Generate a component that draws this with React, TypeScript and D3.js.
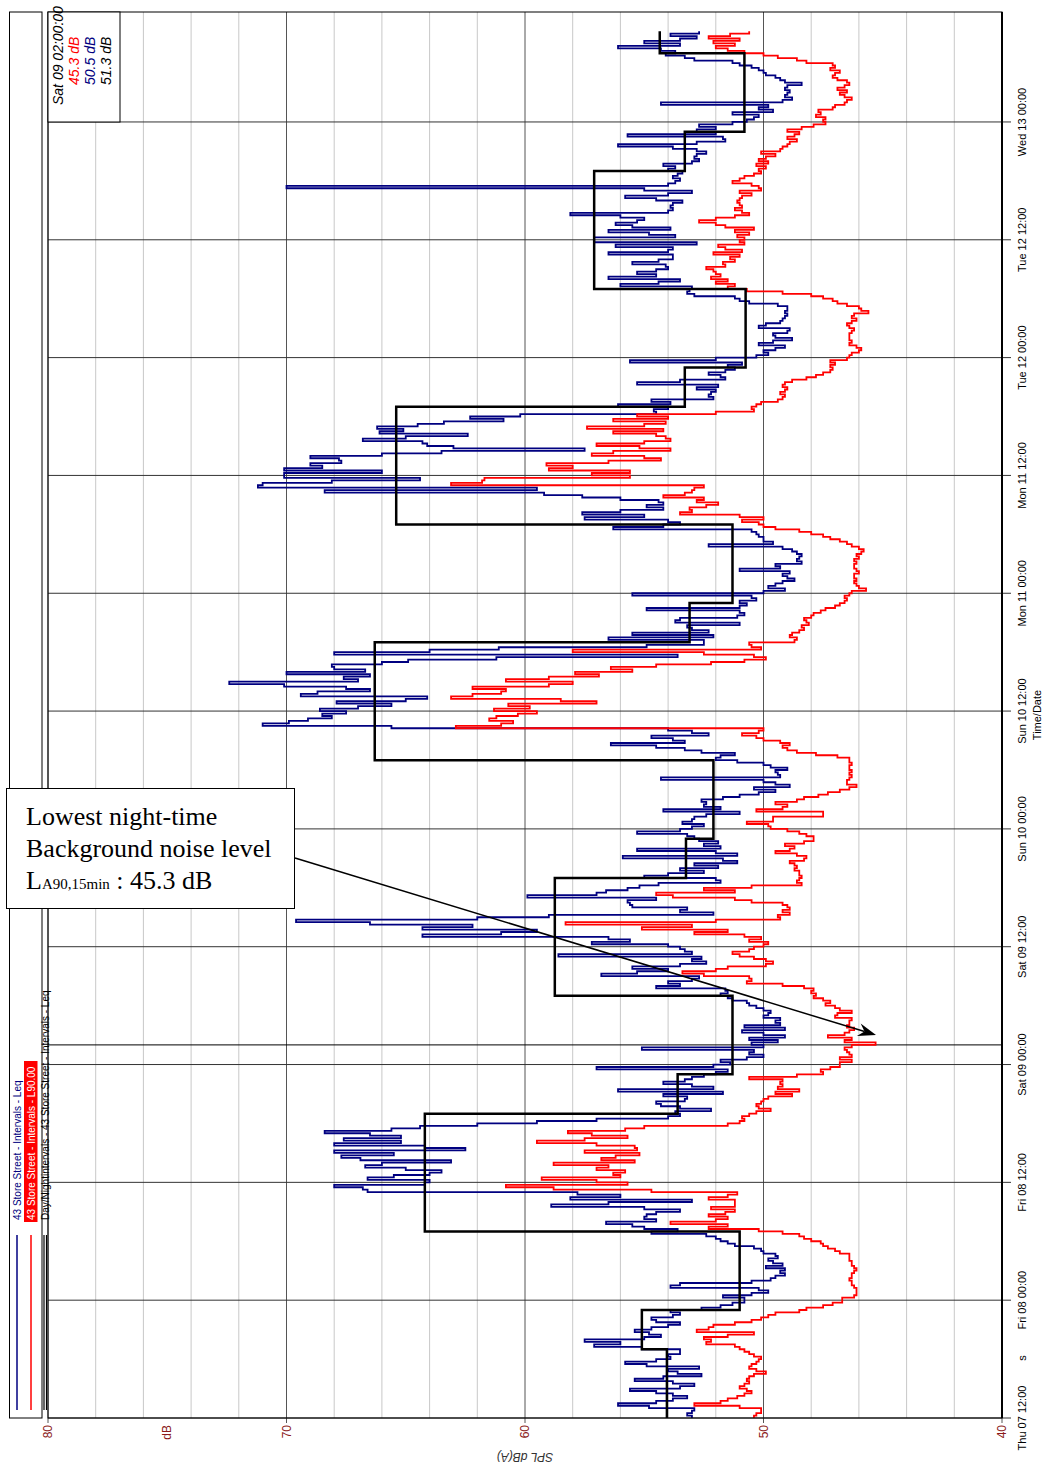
import * as d3 from "d3"

// ---- data (15 min intervals from Thu 07 12:00) ----
const SERIES_START = "2019-11-07T12:00:00Z"
const AXIS_END = "2019-11-13T11:12:00Z"
const INTERVAL_MIN = 15
const CURSOR_TIME = "2019-11-09T02:00:00Z"

// 43 Store Street - Intervals - Leq
const leq = [
  53.0,53.2,53.0,52.9,54.8,56.1,54.5,53.8,53.2,53.8,54.5,55.6,53.5,52.9,53.8,55.4,54.2,52.6,53.6,54.0,52.7,54.9,55.8,54.5,53.9,54.0,53.5,53.5,55.1,57.1,56.0,57.5,55.0,54.3,54.8,55.4,54.7,54.0,53.5,54.5,54.7,53.8,53.5,53.9,52.6,51.8,51.3,50.8,
  50.8,51.7,50.5,49.8,50.2,53.9,53.5,50.5,49.7,49.5,49.1,49.3,49.1,49.9,49.2,49.6,49.8,49.4,49.5,50.0,50.1,50.4,51.2,51.5,51.8,52.0,52.4,54.7,53.6,55.0,55.5,56.6,54.5,55.0,54.9,54.5,53.5,55.0,58.9,56.5,53.0,58.1,56.0,57.8,66.6,66.8,68.0,64.2,
  64.0,66.6,65.5,64.0,63.5,65.0,66.7,66.0,63.1,66.9,67.7,65.5,68.0,62.5,64.2,68.0,65.2,67.6,65.2,66.5,68.4,65.6,64.4,62.0,59.5,57.0,54.0,53.5,53.7,52.2,53.5,54.3,54.5,53.3,53.2,54.2,51.7,56.1,52.1,53.0,54.2,53.3,53.0,52.5,52.0,51.5,57.0,52.1,
  51.4,51.8,50.7,50.0,50.6,50.4,55.1,50.0,50.5,49.4,50.6,49.1,50.0,50.9,49.1,50.8,49.3,49.5,49.3,50.0,49.8,49.7,50.0,50.3,50.6,50.7,51.3,51.5,51.8,51.5,51.6,54.5,53.5,54.0,53.0,52.7,56.8,55.3,54.0,55.5,53.5,52.4,53.0,52.6,58.6,53.0,53.3,53.5,
  54.0,57.2,55.6,56.5,64.3,61.0,59.5,64.3,62.2,66.5,69.6,62.0,59.0,52.1,53.5,53.2,55.5,55.6,55.7,54.5,59.9,57.0,56.6,55.7,55.2,54.4,51.8,52.0,55.0,54.0,52.5,53.5,51.9,52.9,51.1,51.7,55.9,51.1,52.0,55.3,51.8,52.5,51.9,52.7,52.9,53.2,55.3,53.5,
  53.0,52.5,53.4,53.0,52.9,52.4,51.0,54.2,51.8,52.5,52.4,52.6,51.7,51.0,50.2,49.5,50.4,48.9,49.5,50.0,54.3,49.3,49.4,49.5,49.0,49.7,50.0,51.1,52.0,51.8,51.2,52.6,53.3,54.5,56.4,53.3,53.8,54.7,52.3,53.0,54.0,65.6,71.0,69.9,69.1,68.1,68.5,67.5,
  68.6,67.0,65.6,67.9,65.0,64.1,69.4,68.7,66.5,67.5,70.1,72.4,67.0,67.6,66.5,70.0,66.7,68.0,68.1,66.0,64.9,61.2,53.6,68.0,64.0,61.1,54.9,52.5,52.5,56.5,52.1,55.5,52.3,53.0,53.2,51.0,53.7,53.5,51.1,50.8,51.0,54.9,51.0,50.7,51.0,50.3,50.5,55.5,
  50.0,49.1,49.8,49.5,49.2,48.7,49.0,49.2,48.9,51.0,49.3,49.5,48.4,48.6,48.5,48.4,48.6,48.8,49.2,52.3,49.6,50.0,50.0,50.2,50.3,50.5,56.3,54.2,53.5,54.0,57.5,55.0,57.6,56.0,54.2,54.9,54.2,54.4,56.0,57.6,59.2,68.4,59.5,71.2,71.0,68.1,64.4,70.1,
  70.1,66.0,70.1,68.5,69.0,67.7,67.8,69.0,66.0,63.5,57.5,63.0,64.1,64.3,66.8,65.0,62.4,66.1,65.1,66.2,64.5,63.4,60.9,62.3,60.2,54.5,54.6,54.0,56.1,53.9,54.7,52.1,52.3,52.2,52.0,52.8,51.9,55.3,53.5,51.6,51.8,52.3,51.6,51.2,51.5,50.9,55.6,52.0,
  50.3,49.8,50.0,49.5,49.1,50.2,49.6,48.8,49.5,49.6,49.0,48.9,50.2,49.9,49.3,49.2,49.1,49.0,49.1,49.0,49.0,49.4,50.6,51.0,51.2,52.9,53.2,53.1,53.0,56.0,54.4,53.5,56.5,54.5,55.3,54.5,54.0,54.1,55.5,54.4,53.8,53.8,56.5,54.0,53.8,56.2,52.8,57.1,
  57.1,53.7,54.8,56.5,53.9,55.5,56.2,55.3,55.0,56.0,58.1,54.0,53.8,53.9,53.8,53.4,54.5,55.8,54.0,53.0,55.0,70.0,54.0,53.7,53.5,53.8,53.6,53.4,54.0,53.7,54.2,53.0,52.7,52.9,52.8,52.4,52.8,53.8,56.1,52.8,51.6,51.7,55.7,52.0,52.8,52.0,52.7,51.3,
  50.7,50.4,50.2,51.3,49.6,50.2,49.8,54.3,49.2,48.8,49.1,49.0,48.9,49.1,49.0,48.4,49.1,49.3,49.5,49.9,50.0,50.2,50.5,51.0,51.3,52.9,53.3,54.1,
  53.7,54.3,56.1,53.5,55.0,53.5,52.8,53.9,52.7,
]

// 43 Store Street - Intervals - L90.00
const l90 = [
  50.4,50.3,50.1,50.1,51.0,52.9,51.8,51.5,51.1,50.8,50.5,50.7,51.0,50.8,50.6,50.7,50.6,50.4,49.9,50.3,50.6,50.5,50.3,50.2,50.1,50.4,50.6,50.8,51.0,51.2,52.4,52.2,52.5,51.5,50.4,52.8,52.3,52.1,51.2,50.5,50.1,49.8,49.5,48.5,48.2,47.5,47.1,46.7,
  46.7,46.2,46.1,46.1,46.1,46.2,46.3,46.3,46.4,46.3,46.3,46.2,46.1,46.2,46.3,46.3,46.4,46.4,46.4,46.8,47.0,47.3,47.5,47.6,48.0,48.3,48.5,49.2,50.2,52.3,51.5,53.9,52.0,51.5,52.3,51.6,51.2,52.2,51.2,51.2,51.2,52.3,51.5,51.1,54.7,58.8,60.8,55.7,
  57.0,59.3,56.0,56.3,55.8,57.0,56.5,58.8,55.4,56.8,56.2,55.2,57.5,55.3,55.4,57.0,59.5,57.5,55.7,57.2,58.2,55.8,55.0,51.5,51.0,50.8,50.9,50.6,50.3,49.7,50.2,50.3,50.1,50.0,49.8,48.8,49.5,48.5,49.4,49.2,49.3,49.2,50.6,48.6,47.5,47.6,47.2,46.8,
  46.8,46.3,46.8,46.3,46.4,46.5,46.6,46.3,45.3,46.6,46.3,47.3,46.6,46.4,46.2,46.5,46.4,46.4,46.3,47.0,46.9,46.3,46.8,47.0,47.4,47.2,47.5,47.9,47.8,48.0,47.9,48.3,49.2,50.7,50.5,50.6,52.5,53.4,52.0,51.5,49.9,49.6,49.9,50.4,51.0,51.3,50.6,50.4,
  50.0,49.8,50.6,50.1,50.8,52.9,51.5,55.1,53.0,58.3,52.0,49.3,49.4,48.9,49.2,48.9,49.0,49.2,50.5,51.2,53.8,54.5,51.2,52.5,50.5,48.4,48.6,48.5,48.4,48.5,48.5,48.7,48.6,48.7,48.9,48.3,48.2,48.6,49.5,48.9,48.7,49.1,48.3,47.9,47.9,48.2,48.5,49.0,
  49.7,49.8,50.7,49.6,49.6,47.5,47.5,50.3,49.2,49.0,49.5,48.6,48.3,47.7,47.3,46.8,46.4,46.1,46.5,46.5,46.4,46.3,46.4,46.3,46.4,46.4,46.3,46.4,46.4,46.9,47.8,48.6,49.0,49.2,48.9,49.3,50.0,50.3,50.9,50.2,50.0,62.9,61.0,60.5,61.5,61.2,60.3,59.5,
  61.3,59.8,60.7,57.0,58.5,63.1,62.2,61.0,60.8,62.2,59.0,58.0,60.8,59.0,56.9,57.9,55.5,56.4,54.5,52.2,50.8,49.9,50.4,52.5,58.0,50.1,50.5,50.6,48.7,48.6,48.9,48.8,48.5,48.3,48.4,48.1,48.2,48.3,48.0,47.9,47.6,47.4,47.0,46.8,46.6,46.5,46.6,46.4,
  46.3,45.7,46.0,46.1,46.2,46.1,46.2,46.2,46.0,46.1,46.2,46.2,46.1,46.2,46.0,46.1,45.9,45.8,46.0,46.3,46.5,46.8,47.2,47.5,48.0,48.5,49.5,50.0,50.2,50.9,50.0,51.0,53.5,53.0,53.1,52.4,51.9,52.8,52.5,54.2,53.3,53.0,52.9,52.5,63.1,61.8,61.7,55.6,
  57.2,55.6,59.0,58.0,59.1,56.5,54.3,55.0,57.2,56.3,53.9,55.2,57.0,55.0,53.9,54.1,54.5,56.3,54.2,57.4,55.0,54.1,56.3,54.0,55.3,52.0,50.4,50.5,50.3,50.1,49.4,49.2,49.1,49.3,49.1,49.0,49.2,49.1,48.8,48.2,47.8,47.5,47.2,47.1,47.2,47.0,47.2,46.5,
  46.4,46.3,46.0,45.9,46.1,46.4,46.3,46.4,46.4,46.4,46.3,46.2,46.4,46.5,46.3,46.1,46.3,46.2,45.6,45.9,46.0,46.5,46.9,47.1,47.5,48.0,49.2,50.7,51.5,51.2,52.0,51.5,52.2,51.8,52.0,52.1,52.4,51.6,51.7,51.2,51.4,51.0,52.1,50.9,51.6,51.9,50.8,51.0,
  50.8,51.1,50.6,51.2,50.4,51.6,52.0,52.7,52.0,51.2,50.6,50.9,51.2,50.9,51.0,51.1,51.0,50.9,50.5,51.0,50.1,50.2,50.5,51.3,51.0,50.8,50.4,50.1,50.2,49.9,50.3,49.8,50.2,49.9,49.5,50.1,49.3,49.2,49.0,48.9,48.6,49.0,48.7,48.5,49.0,48.4,47.9,47.4,
  47.5,47.4,47.8,47.6,47.7,47.1,47.0,46.6,46.5,46.3,46.6,46.8,46.5,46.9,46.6,46.4,46.5,46.9,47.1,47.0,46.8,47.2,47.0,47.1,48.2,48.6,49.4,50.0,
  50.8,51.5,52.0,51.2,52.1,51.0,52.3,51.4,50.6,
]

// Day / evening / night periods (Leq)
const dayNightStart = [
  "2019-11-07T12:00:00Z", "2019-11-07T19:00:00Z", "2019-11-07T23:00:00Z",
  "2019-11-08T07:00:00Z", "2019-11-08T19:00:00Z", "2019-11-08T23:00:00Z",
  "2019-11-09T07:00:00Z", "2019-11-09T19:00:00Z", "2019-11-09T23:00:00Z",
  "2019-11-10T07:00:00Z", "2019-11-10T19:00:00Z", "2019-11-10T23:00:00Z",
  "2019-11-11T07:00:00Z", "2019-11-11T19:00:00Z", "2019-11-11T23:00:00Z",
  "2019-11-12T07:00:00Z", "2019-11-12T19:00:00Z", "2019-11-12T23:00:00Z",
  "2019-11-13T07:00:00Z",
]
const dayNightEnd = "2019-11-13T09:15:00Z"
const dayNightLeq = [
  54.05, 55.1, 51.0, 64.2, 53.6, 51.3, 58.75, 53.25, 52.1, 66.3,
  53.1, 51.3, 65.4, 53.3, 50.75, 57.1, 53.3, 50.8, 54.35,
]

const timeTicks = [
  "2019-11-07T12:00:00Z", "2019-11-08T00:00:00Z", "2019-11-08T12:00:00Z",
  "2019-11-09T00:00:00Z", "2019-11-09T12:00:00Z", "2019-11-10T00:00:00Z",
  "2019-11-10T12:00:00Z", "2019-11-11T00:00:00Z", "2019-11-11T12:00:00Z",
  "2019-11-12T00:00:00Z", "2019-11-12T12:00:00Z", "2019-11-13T00:00:00Z",
]
const dbTicks = [80, 70, 60, 50, 40]
const dbUnitAt = 75

const legendLabels = [
  "43 Store Street - Intervals - Leq",
  "43 Store Street - Intervals - L90.00",
  "Day/Nightintervals - 43 Store Street - Intervals - Leq",
]
const readoutLines = ["Sat 09 02:00:00", "45.3 dB", "50.5 dB", "51.3 dB"]
const noteLines = ["Lowest night-time", "Background noise level"]

// ---- layout ----
const W = 1045
const H = 1470
// the chart is built in an unrotated 1470 x 1045 frame and turned -90deg
const PL = 52
const PR = 1458
const PT = 48
const PB = 1002

const NAVY = "#000080"
const RED = "#ff0000"
const TICK_RED = "#8b1a1a"

export default function App() {
  const x = d3.scaleUtc().domain([new Date(SERIES_START), new Date(AXIS_END)]).range([PL, PR])
  const y = d3.scaleLinear().domain([40, 80]).range([PB, PT])

  const t0 = Date.parse(SERIES_START)
  const stepMs = INTERVAL_MIN * 60000
  const toSteps = (vals: number[]) => {
    const pts: [Date, number][] = vals.map((v, i) => [new Date(t0 + i * stepMs), v])
    pts.push([new Date(t0 + vals.length * stepMs), vals[vals.length - 1]])
    return pts
  }
  const line = d3
    .line<[Date, number]>()
    .x((d) => x(d[0]))
    .y((d) => y(d[1]))
    .curve(d3.curveStepAfter)

  const dnPts: [Date, number][] = dayNightStart.map((s, i) => [new Date(s), dayNightLeq[i]])
  dnPts.push([new Date(dayNightEnd), dayNightLeq[dayNightLeq.length - 1]])

  const minor = d3.range(42, 80, 2).filter((v) => v % 10 !== 0)
  const fmt = d3.utcFormat("%a %d %H:%M")
  const cursorX = x(new Date(CURSOR_TIME))

  // annotation arrow (screen coordinates)
  const a0 = [295, 858]
  const tip = [876, 1035]
  const len = Math.hypot(tip[0] - a0[0], tip[1] - a0[1])
  const ux = (tip[0] - a0[0]) / len
  const uy = (tip[1] - a0[1]) / len
  const head = [
    [tip[0], tip[1]],
    [tip[0] - 18 * ux - 6.5 * uy, tip[1] - 18 * uy + 6.5 * ux],
    [tip[0] - 12 * ux, tip[1] - 12 * uy],
    [tip[0] - 18 * ux + 6.5 * uy, tip[1] - 18 * uy - 6.5 * ux],
  ]

  return (
    <svg
      width={W}
      height={H}
      style={{ position: "fixed", left: 0, top: 0, background: "#fff" }}
      fontFamily="'Liberation Sans', Arial, Helvetica, sans-serif"
    >
      <rect width={W} height={H} fill="#fff" />
      <g transform={`translate(0,${H}) rotate(-90)`}>
        {/* grid */}
        {minor.map((v) => (
          <line key={"m" + v} x1={PL} x2={PR} y1={y(v)} y2={y(v)} stroke="#c8c8c8" strokeWidth={1} />
        ))}
        {dbTicks.map((v) => (
          <line key={"M" + v} x1={PL - 5} x2={PR} y1={y(v)} y2={y(v)} stroke="#555" strokeWidth={1} />
        ))}
        {timeTicks.map((t) => (
          <line key={"t" + t} x1={x(new Date(t))} x2={x(new Date(t))} y1={PT} y2={PB + 9} stroke="#333" strokeWidth={1} />
        ))}
        <line x1={cursorX} x2={cursorX} y1={PT} y2={PB} stroke="#000" strokeWidth={1} />

        {/* series */}
        <path d={line(toSteps(leq)) || ""} fill="none" stroke={NAVY} strokeWidth={1.8} />
        <path d={line(toSteps(l90)) || ""} fill="none" stroke={RED} strokeWidth={1.8} />
        <path d={line(dnPts) || ""} fill="none" stroke="#000" strokeWidth={2.5} />

        {/* frame */}
        <rect x={PL} y={PT} width={PR - PL} height={PB - PT} fill="none" stroke="#000" strokeWidth={1} />
        <line x1={PL} x2={PR} y1={PB} y2={PB} stroke="#000" strokeWidth={2} />

        {/* dB axis */}
        {dbTicks.map((v) => (
          <text key={"l" + v} x={45} y={y(v)} dy="0.35em" textAnchor="end" fontSize={12} fill={TICK_RED}>
            {v}
          </text>
        ))}
        <text x={45} y={y(dbUnitAt)} dy="0.35em" textAnchor="end" fontSize={12} fill={TICK_RED}>
          dB
        </text>
        <text
          transform={`translate(17,${(PT + PB) / 2}) rotate(-90)`}
          textAnchor="middle"
          fontSize={12}
          fontStyle="italic"
          fill="#333"
        >
          SPL dB(A)
        </text>

        {/* time axis */}
        {timeTicks.map((t) => (
          <text key={"x" + t} x={x(new Date(t))} y={1026} textAnchor="middle" fontSize={11} fill="#000">
            {fmt(new Date(t))}
          </text>
        ))}
        <text x={112} y={1026} textAnchor="middle" fontSize={11}>s</text>
        <text x={(PL + PR) / 2} y={1041} textAnchor="middle" fontSize={11}>Time/Date</text>

        {/* legend */}
        <rect x={PL} y={9.5} width={PR - PL} height={32.5} fill="none" stroke="#000" strokeWidth={1} />
        <line x1={60} x2={235} y1={17} y2={17} stroke={NAVY} strokeWidth={1.5} />
        <line x1={60} x2={235} y1={31} y2={31} stroke={RED} strokeWidth={1.5} />
        <line x1={60} x2={235} y1={44} y2={44} stroke="#000" strokeWidth={1.2} />
        <line x1={60} x2={235} y1={46.5} y2={46.5} stroke="#000" strokeWidth={1.2} />
        <text x={250} y={21} fontSize={10} fill={NAVY}>{legendLabels[0]}</text>
        <rect x={248} y={24} width={161} height={13.5} fill={RED} />
        <text x={250} y={35} fontSize={10} fill="#fff">{legendLabels[1]}</text>
        <text x={250} y={49} fontSize={10} fill="#000">{legendLabels[2]}</text>

        {/* cursor readout */}
        <rect x={1348} y={PT} width={PR - 1348} height={72} fill="#fff" stroke="#000" strokeWidth={1} />
        <text x={1365} y={63} fontSize={14} fontStyle="italic" fill="#000">{readoutLines[0]}</text>
        <text x={1385} y={79} fontSize={14} fontStyle="italic" fill={RED}>{readoutLines[1]}</text>
        <text x={1385} y={95} fontSize={14} fontStyle="italic" fill={NAVY}>{readoutLines[2]}</text>
        <text x={1385} y={111} fontSize={14} fontStyle="italic" fill="#000">{readoutLines[3]}</text>
      </g>

      {/* annotation */}
      <line x1={a0[0]} y1={a0[1]} x2={tip[0] - 12 * ux} y2={tip[1] - 12 * uy} stroke="#000" strokeWidth={1.5} />
      <polygon points={head.map((p) => p.join(",")).join(" ")} fill="#000" />
      <rect x={6.5} y={788.5} width={288} height={120} fill="#fff" stroke="#000" strokeWidth={1} />
      <g fontFamily="'Liberation Serif', 'Times New Roman', serif" fontSize={26} fill="#000">
        <text x={26} y={825}>{noteLines[0]}</text>
        <text x={26} y={857}>{noteLines[1]}</text>
        <text x={26} y={889}>
          L<tspan fontSize={15}>A90,15min</tspan> : 45.3 dB
        </text>
      </g>
    </svg>
  )
}
